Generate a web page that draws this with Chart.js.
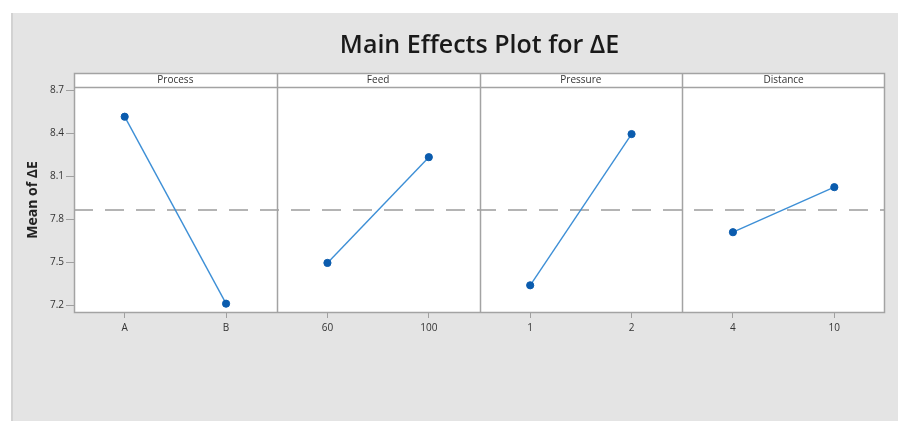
<!DOCTYPE html>
<html>
<head>
<meta charset="utf-8">
<style>
  html, body { margin: 0; padding: 0; background: #ffffff; }
  canvas { display: block; }
</style>
<script src="https://cdn.jsdelivr.net/npm/chart.js@4/dist/chart.umd.min.js"></script>
</head>
<body>
<canvas id="chart" width="898" height="421"></canvas>
<script>
// Factors and their two levels
const factors = ['Process', 'Feed', 'Pressure', 'Distance'];
const processLevels = ['A', 'B'];
const feedLevels = ['60', '100'];
const pressureLevels = ['1', '2'];
const distanceLevels = ['4', '10'];

// Mean of ΔE at each level
const processMeans = [8.514, 7.211];
const feedMeans = [7.495, 8.232];
const pressureMeans = [7.339, 8.393];
const distanceMeans = [7.709, 8.023];

// Overall mean (dashed reference line)
const grandMean = 7.864;

// Y axis ticks
const yTicks = [7.2, 7.5, 7.8, 8.1, 8.4, 8.7];

const levelSets = [processLevels, feedLevels, pressureLevels, distanceLevels];
const meanSets = [processMeans, feedMeans, pressureMeans, distanceMeans];

// One shared category axis: two slots per factor panel
const categories = levelSets.flat();

const LINE = '#3d8fd6';
const MARK = '#0b5cae';
const FRAME = '#a3a3a3';

const datasets = meanSets.map((means, f) => {
  const data = categories.map(() => null);
  data[2 * f] = means[0];
  data[2 * f + 1] = means[1];
  return {
    label: factors[f],
    data,
    borderColor: LINE,
    borderWidth: 1.4,
    pointRadius: 3.6,
    pointBackgroundColor: MARK,
    pointBorderColor: MARK,
    pointBorderWidth: 1,
    spanGaps: false,
    tension: 0
  };
});

const HEADER_H = 14;

const panelPlugin = {
  id: 'panels',
  beforeDraw(chart) {
    const { ctx, width, height } = chart;
    ctx.save();
    ctx.fillStyle = '#ffffff';
    ctx.fillRect(0, 0, width, height);
    ctx.fillStyle = '#e4e4e4';
    ctx.fillRect(11, 13, width - 11, height - 13);
    ctx.fillStyle = '#d2d2d2';
    ctx.fillRect(11, 13, 2, height - 13);
    ctx.restore();
  },
  beforeDatasetsDraw(chart) {
    const { ctx, chartArea: a, scales } = chart;
    const x = scales.x, y = scales.y;
    const top = a.top - HEADER_H;
    ctx.save();
    // plot and header background
    ctx.fillStyle = '#ffffff';
    ctx.fillRect(a.left, top, a.right - a.left, a.bottom - top);

    // grand mean reference line
    const gy = y.getPixelForValue(grandMean);
    ctx.strokeStyle = '#9c9c9c';
    ctx.lineWidth = 1.5;
    ctx.setLineDash([19, 12]);
    ctx.beginPath();
    ctx.moveTo(a.left, gy);
    ctx.lineTo(a.right, gy);
    ctx.stroke();
    ctx.setLineDash([]);

    // panel dividers
    ctx.strokeStyle = FRAME;
    ctx.lineWidth = 1.5;
    for (let f = 1; f < factors.length; f++) {
      const px = Math.round(x.getPixelForValue(2 * f - 0.5)) + 0.5;
      ctx.beginPath();
      ctx.moveTo(px, top);
      ctx.lineTo(px, a.bottom);
      ctx.stroke();
    }
    // header strip bottom
    ctx.beginPath();
    ctx.moveTo(a.left, a.top + 0.5);
    ctx.lineTo(a.right, a.top + 0.5);
    ctx.stroke();
    // outer frame
    ctx.strokeRect(a.left + 0.5, top + 0.5, a.right - a.left - 1, a.bottom - top - 1);

    // header labels
    ctx.fillStyle = '#333333';
    ctx.font = '10px "Open Sans", sans-serif';
    ctx.textAlign = 'center';
    ctx.textBaseline = 'middle';
    factors.forEach((name, f) => {
      const cx = x.getPixelForValue(2 * f + 0.5);
      ctx.fillText(name, cx, top + HEADER_H / 2 + 0.5);
    });
    ctx.restore();
  }
};

new Chart(document.getElementById('chart'), {
  type: 'line',
  data: { labels: categories, datasets },
  plugins: [panelPlugin],
  options: {
    responsive: false,
    animation: false,
    devicePixelRatio: 1,
    layout: { padding: { left: 20, right: 13, top: 0, bottom: 78 } },
    plugins: {
      legend: { display: false },
      tooltip: { enabled: false },
      title: {
        display: true,
        fullSize: false,
        text: 'Main Effects Plot for ΔE',
        color: '#1a1a1a',
        font: { family: '"Open Sans", sans-serif', size: 25, weight: '600' },
        padding: { top: 31, bottom: 26 }
      }
    },
    scales: {
      x: {
        type: 'category',
        offset: true,
        grid: { offset: false, drawOnChartArea: false, drawTicks: true, tickLength: 5, tickColor: '#a0a0a0' },
        border: { display: false },
        ticks: { color: '#333333', padding: 4, font: { family: '"Open Sans", sans-serif', size: 10 }, maxRotation: 0, autoSkip: false },
        afterFit(scale) { scale.height = 30; }
      },
      y: {
        type: 'linear',
        min: 7.146,
        max: 8.721,
        afterBuildTicks(scale) { scale.ticks = yTicks.map(v => ({ value: v })); },
        grid: { drawOnChartArea: false, drawTicks: true, tickLength: 8, tickColor: '#a0a0a0' },
        border: { display: false },
        ticks: {
          color: '#333333',
          padding: 2,
          font: { family: '"Open Sans", sans-serif', size: 10 },
          callback: v => Number(v).toFixed(1)
        },
        title: {
          display: true,
          text: 'Mean of ΔE',
          color: '#222222',
          font: { family: '"Open Sans", sans-serif', size: 14, weight: 'bold' },
          padding: { top: 5, bottom: 0 }
        },
        afterFit(scale) { scale.width = 54; }
      }
    }
  }
});
</script>
</body>
</html>
